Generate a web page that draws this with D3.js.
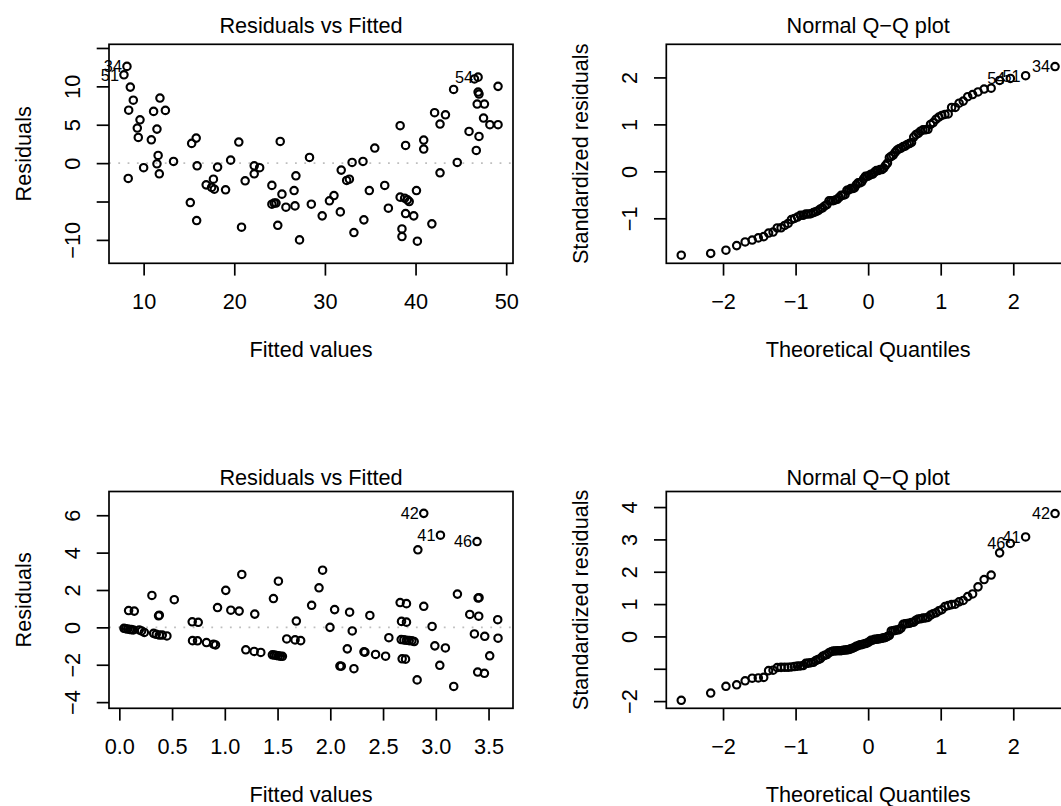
<!DOCTYPE html>
<html>
<head>
<meta charset="utf-8">
<script src="https://cdn.jsdelivr.net/npm/d3@7"></script>
<style>
  body { margin: 0; background: #fff; }
  svg { display: block; }
  text { font-family: "Liberation Sans", Arial, Helvetica, sans-serif; fill: #000; }
</style>
</head>
<body>
<svg id="chart" width="1061" height="806"></svg>
<script>
// ---- Model 1: fitted values and raw residuals (first three are the flagged observations) ----
const ids1 = ["34", "51", "54"];
const fitted1 = [
  8.16, 7.83, 46.9,
  8.53, 8.86, 8.35, 9.6, 9.3, 9.41, 10.85, 11.1, 11.8, 12.4,
  11.47, 11.6, 11.47, 11.73, 10.0, 8.3, 13.3, 15.3, 15.8, 15.9,
  15.15, 15.85, 18.16, 17.7, 16.9, 17.5, 17.8, 19.04, 19.6, 20.5,
  21.2, 22.2, 22.8, 22.2, 20.8, 25.07, 24.15, 25.26, 24.15, 24.4,
  24.6, 25.7, 26.6, 26.8, 26.7, 24.8, 27.2,
  28.5, 28.3, 29.7, 30.5, 31.0, 31.7, 31.8, 32.4, 32.7, 33.0,
  34.2, 33.2, 34.3, 34.9, 35.5, 36.6, 37.0, 38.3, 38.9, 38.3,
  38.8, 39.1, 39.3, 38.9, 39.8, 40.1, 38.5, 38.5, 40.2, 40.9,
  40.9, 41.8, 42.1, 42.7, 43.3, 42.7, 44.6, 44.2, 45.9, 47.0,
  46.7, 46.5, 46.9, 47.0, 46.8, 47.6, 47.5, 48.2, 49.1, 49.1
];
const resid1 = [
  12.6, 11.5, 11.2,
  9.9, 8.2, 6.9, 5.65, 4.57, 3.35, 3.04, 6.74, 8.48, 6.87,
  4.43, 1.0, -0.09, -1.39, -0.6, -2.0, 0.22, 2.57, 3.26, -0.35,
  -5.13, -7.48, -0.52, -2.09, -2.83, -3.17, -3.39, -3.48, 0.39, 2.74,
  -2.3, -0.35, -0.6, -1.39, -8.35, 2.83, -2.9, -4.04, -5.35, -5.2,
  -5.2, -5.74, -3.57, -1.65, -5.57, -8.1, -10.0,
  -5.35, 0.74, -6.87, -4.91, -4.22, -6.35, -0.91, -2.26, -2.09, 0.09,
  0.22, -9.04, -7.39, -3.57, 1.96, -2.91, -5.87, 4.87, 2.30, -4.43,
  -4.57, -4.78, -5.0, -6.57, -6.87, -3.57, -8.57, -9.57, -10.17, 3.0,
  1.83, -7.91, 6.57, 5.09, 6.3, -1.26, 0.09, 9.6, 4.13, 3.48,
  1.65, 10.96, 9.26, 9.0, 7.7, 7.7, 5.87, 5.0, 5.0, 10.0
];

// ---- Model 2: fitted values and raw residuals (first three are the flagged observations) ----
const ids2 = ["42", "41", "46"];
const fitted2 = [
  2.886, 3.044, 3.391,
  0.044, 0.060, 0.079, 0.098, 0.114, 0.133, 0.088, 0.142, 0.189, 0.211,
  0.237, 0.309, 0.372, 0.379, 0.325, 0.350, 0.379, 0.407, 0.451, 0.521,
  0.691, 0.748, 0.694, 0.741, 0.826, 0.893, 0.912, 0.931, 1.009, 1.057,
  1.136, 1.161, 1.284, 1.199, 1.278, 1.341, 1.461, 1.508, 1.451, 1.470,
  1.489, 1.508, 1.527, 1.546, 1.587, 1.678, 1.666, 1.719,
  1.823, 1.893, 1.927, 1.997, 2.041, 2.161, 2.091, 2.104, 2.183, 2.208,
  2.224, 2.319, 2.328, 2.375, 2.429, 2.524, 2.555, 2.662, 2.722, 2.675,
  2.722, 2.672, 2.697, 2.722, 2.748, 2.773, 2.795, 2.681, 2.713, 2.830,
  2.823, 2.886, 2.965, 2.991, 3.038, 3.091, 3.170, 3.205, 3.322, 3.366,
  3.401, 3.410, 3.407, 3.464, 3.397, 3.461, 3.511, 3.587, 3.590
];
const resid2 = [
  6.10, 4.93, 4.59,
  -0.05, -0.07, -0.09, -0.11, -0.12, -0.14, 0.90, 0.87, -0.14, -0.19,
  -0.27, 1.71, 0.62, 0.65, -0.32, -0.37, -0.41, -0.41, -0.46, 1.48,
  0.30, 0.27, -0.71, -0.72, -0.81, -0.90, -0.94, 1.06, 1.98, 0.92,
  0.87, 2.83, 0.71, -1.20, -1.29, -1.34, 1.54, 2.47, -1.47, -1.48,
  -1.50, -1.52, -1.54, -1.55, -0.62, 0.34, -0.67, -0.71,
  1.18, 2.12, 3.06, 0.00, 0.95, -1.15, -2.07, -2.08, 0.81, -0.19,
  -2.21, -1.31, -1.33, 0.64, -1.45, -1.54, -0.55, 1.33, 1.27, 0.32,
  0.28, -0.65, -0.67, -0.69, -0.71, -0.72, -0.76, -1.68, -1.70, 4.15,
  -2.81, 1.13, 0.05, -0.99, -2.03, -1.10, -3.16, 1.78, 0.69, -0.35,
  1.57, 1.59, 0.60, -0.48, -2.39, -2.46, -1.52, 0.41, -0.58
];

// ---- Axis ticks and their printed labels ("" = tick without label) ----
const fitTicks1 = [10, 20, 30, 40, 50];
const fitTickLabels1 = ["10", "20", "30", "40", "50"];
const resTicks1 = [-10, -5, 0, 5, 10, 15];
const resTickLabels1 = ["\u221210", "", "0", "5", "10", ""];
const fitTicks2 = [0, 0.5, 1, 1.5, 2, 2.5, 3, 3.5];
const fitTickLabels2 = ["0.0", "0.5", "1.0", "1.5", "2.0", "2.5", "3.0", "3.5"];
const resTicks2 = [-4, -2, 0, 2, 4, 6];
const resTickLabels2 = ["\u22124", "\u22122", "0", "2", "4", "6"];
const qqTicksX = [-2, -1, 0, 1, 2];
const qqTickLabelsX = ["\u22122", "\u22121", "0", "1", "2"];
const qqTicksY1 = [-1, 0, 1, 2];
const qqTickLabelsY1 = ["\u22121", "0", "1", "2"];
const qqTicksY2 = [-2, -1, 0, 1, 2, 3, 4];
const qqTickLabelsY2 = ["\u22122", "", "0", "1", "2", "3", "4"];

// ---- Helpers ----
// Inverse standard normal CDF (Acklam's rational approximation)
function qnorm(p) {
  const a = [-3.969683028665376e+01, 2.209460984245205e+02, -2.759285104469687e+02, 1.383577518672690e+02, -3.066479806614716e+01, 2.506628277459239e+00];
  const b = [-5.447609879822406e+01, 1.615858368580409e+02, -1.556989798598866e+02, 6.680131188771972e+01, -1.328068155288572e+01];
  const c = [-7.784894002430293e-03, -3.223964580411365e-01, -2.400758277161838e+00, -2.549732539343734e+00, 4.374664141464968e+00, 2.938163982698783e+00];
  const d = [7.784695709041462e-03, 3.224671290700398e-01, 2.445134137142996e+00, 3.754408661907416e+00];
  const pl = 0.02425, ph = 1 - pl;
  let q, r;
  if (p < pl) {
    q = Math.sqrt(-2 * Math.log(p));
    return (((((c[0]*q+c[1])*q+c[2])*q+c[3])*q+c[4])*q+c[5]) / ((((d[0]*q+d[1])*q+d[2])*q+d[3])*q+1);
  }
  if (p > ph) {
    q = Math.sqrt(-2 * Math.log(1 - p));
    return -(((((c[0]*q+c[1])*q+c[2])*q+c[3])*q+c[4])*q+c[5]) / ((((d[0]*q+d[1])*q+d[2])*q+d[3])*q+1);
  }
  q = p - 0.5; r = q * q;
  return (((((a[0]*r+a[1])*r+a[2])*r+a[3])*r+a[4])*r+a[5])*q / (((((b[0]*r+b[1])*r+b[2])*r+b[3])*r+b[4])*r+1);
}

// Standardized residuals for a straight-line fit: r / (s * sqrt(1 - h))
function standardize(fitted, resid) {
  const n = resid.length;
  const s = Math.sqrt(d3.sum(resid, r => r * r) / (n - 2));
  const fbar = d3.mean(fitted);
  const sff = d3.sum(fitted, f => (f - fbar) ** 2);
  return resid.map((r, i) => r / (s * Math.sqrt(1 - (1 / n + (fitted[i] - fbar) ** 2 / sff))));
}

// Theoretical normal quantiles matched to the rank of each value
function normalScores(values) {
  const n = values.length;
  const order = d3.range(n).sort((i, j) => values[i] - values[j]);
  const out = new Array(n);
  order.forEach((idx, k) => { out[idx] = qnorm((k + 0.5) / n); });
  return out;
}

// Range extension like base graphics (fraction f each side)
const extend = (lo, hi, f) => [lo - (hi - lo) * f, hi + (hi - lo) * f];

const svg = d3.select("#chart");
const FS = 21.7;
const TICK = 12.3;

function drawPanel(cfg) {
  const { box, xDomain, yDomain, xv, yv, ids, title, xLabel, yLabel } = cfg;
  const x = d3.scaleLinear().domain(xDomain).range([box.x0, box.x1]);
  const y = d3.scaleLinear().domain(yDomain).range([box.y1, box.y0]);
  const g = svg.append("g");

  if (cfg.zeroLine) {
    g.append("line")
      .attr("x1", box.x0).attr("x2", box.x1)
      .attr("y1", y(0)).attr("y2", y(0))
      .attr("stroke", "#bebebe").attr("stroke-width", 1.6)
      .attr("stroke-dasharray", "1.8,7.5");
  }

  // points
  g.append("g").selectAll("circle")
    .data(xv.map((v, i) => [v, yv[i]]))
    .join("circle")
    .attr("cx", d => x(d[0])).attr("cy", d => y(d[1]))
    .attr("r", 3.7)
    .attr("fill", "none").attr("stroke", "#000").attr("stroke-width", 2.15);

  // identification labels, to the left of the flagged points
  g.append("g").selectAll("text")
    .data(ids.map((id, i) => ({ id, px: xv[i], py: yv[i] })))
    .join("text")
    .attr("x", d => x(d.px) - 5).attr("y", d => y(d.py))
    .attr("dy", "0.36em")
    .attr("text-anchor", "end")
    .attr("font-size", FS * 0.75)
    .text(d => d.id);

  // bottom axis
  const xAxis = d3.axisBottom(x).tickValues(cfg.xTicks)
    .tickFormat((d, i) => cfg.xTickLabels[i]).tickSize(TICK).tickSizeOuter(0);
  const gx = g.append("g").attr("transform", `translate(0,${box.y1})`).call(xAxis);
  gx.select(".domain").remove();
  gx.selectAll(".tick line").attr("stroke", "#000").attr("stroke-width", 1.7);
  gx.selectAll(".tick text")
    .attr("y", 46.2).attr("dy", null)
    .attr("font-size", FS).attr("font-family", "Liberation Sans, Arial, sans-serif")
    .attr("fill", "#000");

  // left axis (labels parallel to the axis)
  const yAxis = d3.axisLeft(y).tickValues(cfg.yTicks)
    .tickFormat((d, i) => cfg.yTickLabels[i]).tickSize(TICK).tickSizeOuter(0);
  const gy = g.append("g").attr("transform", `translate(${box.x0},0)`).call(yAxis);
  gy.select(".domain").remove();
  gy.selectAll(".tick line").attr("stroke", "#000").attr("stroke-width", 1.7);
  gy.selectAll(".tick text")
    .attr("x", null).attr("dy", null)
    .attr("text-anchor", "middle")
    .attr("transform", "translate(-28.9,0) rotate(-90)")
    .attr("font-size", FS).attr("font-family", "Liberation Sans, Arial, sans-serif")
    .attr("fill", "#000");

  // frame
  g.append("rect")
    .attr("x", box.x0).attr("y", box.y0)
    .attr("width", box.x1 - box.x0).attr("height", box.y1 - box.y0)
    .attr("fill", "none").attr("stroke", "#000").attr("stroke-width", 1.7);

  const cx = (box.x0 + box.x1) / 2, cy = (box.y0 + box.y1) / 2;
  g.append("text").attr("x", cx).attr("y", box.titleY)
    .attr("text-anchor", "middle").attr("font-size", FS).text(title);
  g.append("text").attr("x", cx).attr("y", box.y1 + 93.7)
    .attr("text-anchor", "middle").attr("font-size", FS).text(xLabel);
  g.append("text")
    .attr("transform", `translate(${box.x0 - 78.5},${cy}) rotate(-90)`)
    .attr("text-anchor", "middle").attr("font-size", FS).text(yLabel);
}

// ---- Layout of the four panels ----
const boxes = {
  tl: { x0: 109, x1: 513, y0: 44.3, y1: 263.3, titleY: 33.3 },
  tr: { x0: 666.3, x1: 1070, y0: 44.3, y1: 263.3, titleY: 33.3 },
  bl: { x0: 109, x1: 513, y0: 491.5, y1: 708.3, titleY: 485 },
  br: { x0: 666.3, x1: 1070, y0: 491.5, y1: 708.3, titleY: 485 }
};

function residualPanel(box, fitted, resid, ids, xt, xtl, yt, ytl) {
  const [rlo, rhi] = d3.extent(resid);
  const ylim = extend(...extend(rlo, rhi, 0.08), 0.04);
  const xlim = extend(...d3.extent(fitted), 0.04);
  drawPanel({
    box, xDomain: xlim, yDomain: ylim, xv: fitted, yv: resid, ids,
    xTicks: xt, xTickLabels: xtl, yTicks: yt, yTickLabels: ytl,
    title: "Residuals vs Fitted", xLabel: "Fitted values", yLabel: "Residuals",
    zeroLine: true
  });
}

function qqPanel(box, fitted, resid, ids, yt, ytl) {
  const rs = standardize(fitted, resid);
  const tq = normalScores(rs);
  const [lo, hi] = d3.extent(rs);
  const ylim = extend(lo, hi + (hi - lo) * 0.075, 0.04);
  const xlim = extend(...d3.extent(tq), 0.04);
  drawPanel({
    box, xDomain: xlim, yDomain: ylim, xv: tq, yv: rs, ids,
    xTicks: qqTicksX, xTickLabels: qqTickLabelsX, yTicks: yt, yTickLabels: ytl,
    title: "Normal Q\u2212Q plot", xLabel: "Theoretical Quantiles", yLabel: "Standardized residuals",
    zeroLine: false
  });
}

residualPanel(boxes.tl, fitted1, resid1, ids1, fitTicks1, fitTickLabels1, resTicks1, resTickLabels1);
qqPanel(boxes.tr, fitted1, resid1, ids1, qqTicksY1, qqTickLabelsY1);
residualPanel(boxes.bl, fitted2, resid2, ids2, fitTicks2, fitTickLabels2, resTicks2, resTickLabels2);
qqPanel(boxes.br, fitted2, resid2, ids2, qqTicksY2, qqTickLabelsY2);
</script>
</body>
</html>
